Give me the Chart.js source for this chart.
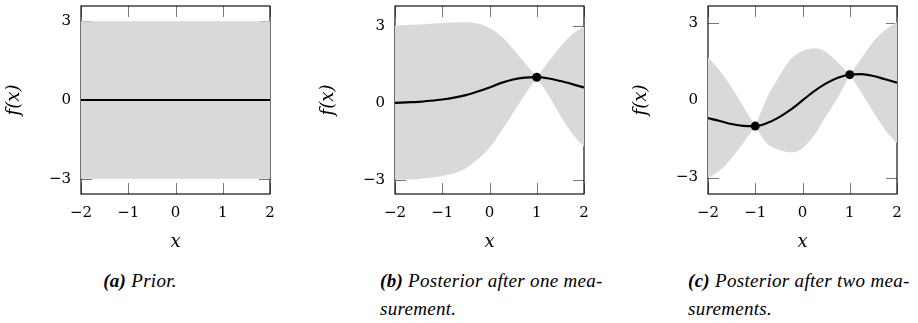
<!DOCTYPE html>
<html>
<head>
<meta charset="utf-8">
<script src="https://cdn.jsdelivr.net/npm/chart.js@4.4.1/dist/chart.umd.min.js"></script>
<style>
  html, body { margin: 0; padding: 0; background: #fff; }
  body { width: 918px; height: 323px; position: relative; overflow: hidden; font-family: "Liberation Serif", serif; }
  .panel { position: absolute; top: 0; width: 290px; height: 255px; }
  .caption { position: absolute; top: 267px; font-style: italic; font-size: 19px; line-height: 28px; letter-spacing: 0.3px; color: #000; white-space: nowrap; }
  .caption b { font-weight: bold; }
</style>
</head>
<body>
<div class="panel" style="left:0px"><canvas id="chart-a"></canvas></div>
<div class="panel" style="left:314px"><canvas id="chart-b"></canvas></div>
<div class="panel" style="left:627px"><canvas id="chart-c"></canvas></div>

<div class="caption" style="left:40px; width:200px; text-align:center"><b>(a)</b> Prior.</div>
<div class="caption" style="left:380px"><b>(b)</b> Posterior after one mea-<br>surement.</div>
<div class="caption" style="left:688px"><b>(c)</b> Posterior after two mea-<br>surements.</div>

<script>
// axis ticks
const xTicks = [-2, -1, 0, 1, 2];
const yTicks = [-3, 0, 3];

// (a) prior
const xsA = [-2, 2];
const meanA = [0, 0];
const upperA = [3, 3];
const lowerA = [-3, -3];
const obsXA = [];
const obsYA = [];

// (b) after one measurement
const xsB = [-2, -1.75, -1.5, -1.25, -1, -0.75, -0.5, -0.25, 0, 0.25, 0.5, 0.75, 1, 1.25, 1.5, 1.75, 2];
const meanB = [0.0, 0.02, 0.04, 0.08, 0.13, 0.2, 0.3, 0.44, 0.6, 0.78, 0.91, 0.98, 1.0, 0.95, 0.85, 0.73, 0.6];
const upperB = [3.02, 3.04, 3.06, 3.09, 3.12, 3.14, 3.15, 3.1, 2.92, 2.6, 2.1, 1.55, 1.0, 1.6, 2.2, 2.68, 2.98];
const lowerB = [-3.0, -2.99, -2.97, -2.93, -2.86, -2.75, -2.55, -2.2, -1.75, -1.1, -0.4, 0.32, 1.0, 0.3, -0.5, -1.2, -1.72];
const obsXB = [1];
const obsYB = [1];

// (c) after two measurements
const xsC = [-2, -1.75, -1.5, -1.25, -1, -0.75, -0.5, -0.25, 0, 0.25, 0.5, 0.75, 1, 1.25, 1.5, 1.75, 2];
const meanC = [-0.69, -0.8, -0.92, -0.99, -1.0, -0.88, -0.66, -0.36, 0.0, 0.36, 0.66, 0.88, 1.0, 1.02, 0.95, 0.82, 0.69];
const upperC = [1.68, 1.15, 0.5, -0.25, -1.0, 0.1, 0.93, 1.6, 1.92, 2.03, 1.88, 1.47, 1.0, 1.64, 2.29, 2.74, 3.05];
const lowerC = [-3.02, -2.72, -2.25, -1.65, -1.0, -1.68, -1.92, -2.02, -1.86, -1.35, -0.6, 0.12, 1.0, 0.3, -0.45, -1.15, -1.67];
const obsXC = [-1, 1];
const obsYC = [-1, 1];

const BAND = 'rgb(217,217,217)';
const FAMILY = 'DejaVu Serif';

const minus = v => String(v).replace('-', '\u2212');
const pts = (xs, ys) => xs.map((x, i) => ({x: x, y: ys[i]}));

// frame + inward ticks, like pgfplots
const frameTicks = {
    id: 'frameTicks',
    beforeDatasetsDraw(chart) {
        const {ctx, chartArea: a} = chart;
        const x = chart.scales.x, y = chart.scales.y;
        ctx.save();
        ctx.strokeStyle = '#777';
        ctx.lineWidth = 1;
        ctx.beginPath();
        xTicks.forEach(v => {
            const px = Math.round(x.getPixelForValue(v)) + 0.5;
            ctx.moveTo(px, a.top); ctx.lineTo(px, a.top + 11);
            ctx.moveTo(px, a.bottom); ctx.lineTo(px, a.bottom - 11);
        });
        yTicks.forEach(v => {
            const py = Math.round(y.getPixelForValue(v)) + 0.5;
            ctx.moveTo(a.left, py); ctx.lineTo(a.left + 11, py);
            ctx.moveTo(a.right, py); ctx.lineTo(a.right - 11, py);
        });
        ctx.stroke();
        ctx.strokeStyle = '#111';
        ctx.lineWidth = 1.2;
        ctx.strokeRect(a.left, a.top, a.right - a.left, a.bottom - a.top);
        ctx.restore();
    }
};

// the band is split at each measurement so the envelope pinches to a sharp point there
function bandDatasets(xs, upper, lower, obsX, firstIndex) {
    const cuts = [0];
    obsX.forEach(ox => {
        const i = xs.indexOf(ox);
        if (i > 0 && i < xs.length - 1) cuts.push(i);
    });
    cuts.push(xs.length - 1);

    const sets = [];
    for (let k = 0; k < cuts.length - 1; k++) {
        const s = cuts[k], e = cuts[k + 1] + 1;
        const segX = xs.slice(s, e);
        const lowerIndex = firstIndex + sets.length + 1;
        sets.push({
            data: pts(segX, upper.slice(s, e)),
            borderColor: 'transparent',
            borderWidth: 0,
            backgroundColor: BAND,
            pointRadius: 0,
            cubicInterpolationMode: 'monotone',
            fill: lowerIndex
        });
        sets.push({
            data: pts(segX, lower.slice(s, e)),
            borderColor: 'transparent',
            borderWidth: 0,
            pointRadius: 0,
            cubicInterpolationMode: 'monotone',
            fill: false
        });
    }
    return sets;
}

function makePanel(id, xs, mean, upper, lower, obsX, obsY, yMin, yMax) {
    const ctx = document.getElementById(id).getContext('2d');
    const tickFont = { family: FAMILY, size: 15 };
    const titleFont = { family: FAMILY, size: 18, style: 'italic' };
    const datasets = [
        {
            data: pts(obsX, obsY),
            showLine: false,
            pointRadius: 4.5,
            pointBackgroundColor: '#000',
            pointBorderWidth: 0
        },
        {
            data: pts(xs, mean),
            borderColor: '#000',
            borderWidth: 2.2,
            pointRadius: 0,
            cubicInterpolationMode: 'monotone',
            fill: false
        }
    ];
    bandDatasets(xs, upper, lower, obsX, datasets.length).forEach(d => datasets.push(d));

    return new Chart(ctx, {
        type: 'line',
        data: { datasets: datasets },
        options: {
            responsive: true,
            maintainAspectRatio: false,
            animation: false,
            events: [],
            layout: { padding: { left: 0, right: 20, top: 6, bottom: 0 } },
            plugins: { legend: { display: false }, tooltip: { enabled: false } },
            scales: {
                x: {
                    type: 'linear',
                    min: -2,
                    max: 2,
                    grid: { display: false, drawTicks: false },
                    border: { display: false },
                    ticks: { stepSize: 1, padding: 10, font: tickFont, color: '#000', callback: minus },
                    title: { display: true, text: 'x', font: titleFont, color: '#000', padding: { top: 0, bottom: 2 } },
                    afterFit: s => { s.height = 61; }
                },
                y: {
                    type: 'linear',
                    min: yMin,
                    max: yMax,
                    grid: { display: false, drawTicks: false },
                    border: { display: false },
                    afterBuildTicks: s => { s.ticks = yTicks.map(v => ({ value: v })); },
                    ticks: { padding: 10, font: tickFont, color: '#000', callback: minus },
                    title: { display: true, text: 'f(x)', font: titleFont, color: '#000', padding: { top: 4, bottom: 0 } },
                    afterFit: s => { s.width = 81; s.paddingTop = 0; s.paddingBottom = 0; }
                }
            }
        },
        plugins: [frameTicks]
    });
}

makePanel('chart-a', xsA, meanA, upperA, lowerA, obsXA, obsYA, -3.58, 3.58);
makePanel('chart-b', xsB, meanB, upperB, lowerB, obsXB, obsYB, -3.56, 3.78);
makePanel('chart-c', xsC, meanC, upperC, lowerC, obsXC, obsYC, -3.64, 3.67);
</script>
</body>
</html>
